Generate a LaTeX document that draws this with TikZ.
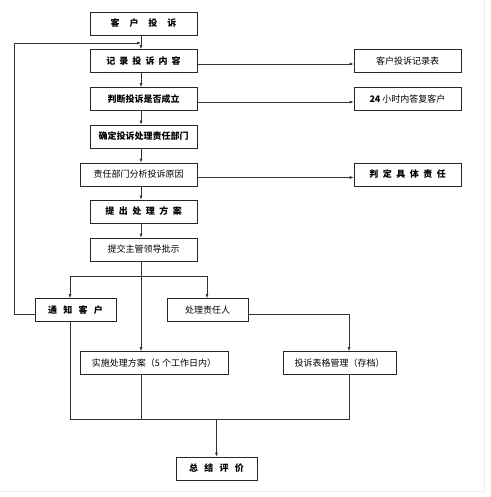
\documentclass[tikz,border=0pt]{standalone}
\usepackage{fontspec}
\newfontfamily\cjk{Noto Sans CJK SC}
\usetikzlibrary{arrows.meta}
\begin{document}
\begin{tikzpicture}[x=1pt,y=-1pt,
  box/.style={draw=black!85, line width=0.6pt, rectangle, inner sep=0pt, minimum height=23pt, font=\cjk\fontsize{9}{10}\selectfont},
  bbox/.style={box, font=\cjk\bfseries\fontsize{9}{10}\selectfont},
  conn/.style={draw=black!80, line width=0.6pt},
  arr/.style={conn, -{Latex[length=4pt,width=3pt]}}]
\useasboundingbox (0,0) rectangle (490,497);
\draw[gray!12, line width=0.6pt] (484,0) -- (484,491) -- (0,491);
% main column
\node[bbox, minimum width=107pt] (n1) at (143.5,23.5) {客\hspace{1.1em}户\hspace{1.1em}投\hspace{1.1em}诉};
\node[bbox, minimum width=107pt] (n2) at (143.5,61) {记\hspace{0.45em}录\hspace{0.45em}投\hspace{0.45em}诉\hspace{0.45em}内\hspace{0.45em}容};
\node[bbox, minimum width=107pt] (n3) at (143.5,99) {判断投诉是否成立};
\node[bbox, minimum width=107pt] (n4) at (143.5,136.5) {确定投诉处理责任部门};
\node[box, minimum width=117pt] (n5) at (138.5,174.5) {责任部门分析投诉原因};
\node[bbox, minimum width=107pt] (n6) at (143.5,211.5) {提\hspace{0.5em}出\hspace{0.5em}处\hspace{0.5em}理\hspace{0.5em}方\hspace{0.5em}案};
\node[box, minimum width=107pt] (n7) at (143.5,249.5) {提交主管领导批示};
\node[bbox, minimum width=81pt] (n8) at (75.5,310) {通\hspace{0.7em}知\hspace{0.7em}客\hspace{0.7em}户};
\node[box, minimum width=81pt] (n9) at (207.5,310) {处理责任人};
\node[box, minimum width=148pt] (n10) at (154,363) {实施处理方案（5 个工作日内）};
\node[box, minimum width=113pt] (n11) at (339.5,363) {投诉表格管理（存档）};
\node[bbox, minimum width=81pt] (n12) at (216.5,468.5) {总\hspace{0.7em}结\hspace{0.7em}评\hspace{0.7em}价};
% right column
\node[box, minimum width=107pt] (r1) at (407.5,61) {客户投诉记录表};
\node[box, minimum width=107pt] (r2) at (407.5,99) {\textbf{24} 小时内答复客户};
\node[bbox, minimum width=107pt] (r3) at (407.5,174.5) {判\hspace{0.5em}定\hspace{0.5em}具\hspace{0.5em}体\hspace{0.5em}责\hspace{0.5em}任};
% coordinates
\coordinate (sp) at (141,0);
\coordinate (loopend) at (141,43);
\coordinate (lp) at (14,43);
\coordinate (b1) at (70,276);
\coordinate (bm) at (141,276);
\coordinate (b2) at (207,276);
\coordinate (rt) at (349,314);
\coordinate (e1) at (70,419);
\coordinate (em) at (141,419);
\coordinate (ec) at (216.5,419);
\coordinate (e2) at (349,419);
% main arrows
\draw[arr] (n1.south -| sp) -- (n2.north -| sp);
\draw[arr] (n2.south -| sp) -- (n3.north -| sp);
\draw[arr] (n3.south -| sp) -- (n4.north -| sp);
\draw[arr] (n4.south -| sp) -- (n5.north -| sp);
\draw[arr] (n5.south -| sp) -- (n6.north -| sp);
\draw[arr] (n6.south -| sp) -- (n7.north -| sp);
\draw[arr] (n7.south -| sp) -- (n10.north -| sp);
% right arrows
\draw[arr] ([yshift=-3pt]n2.east) -- ([yshift=-3pt]r1.west);
\draw[arr] ([yshift=-3pt]n3.east) -- ([yshift=-3pt]r2.west);
\draw[arr] ([yshift=-3pt]n5.east) -- ([yshift=-3pt]r3.west);
% loop back
\draw[arr] ([yshift=-4pt]n8.west) -| (lp) -- (loopend);
% branch
\draw[conn] (b1) -- (b2);
\draw[arr] (b1) -- (n8.north -| b1);
\draw[arr] (b2) -- (n9.north -| b2);
\draw[arr] ([yshift=-4pt]n9.east) -| (n11.north -| rt);
% bottom merge
\draw[conn] (n8.south -| e1) -- (e1) -- (e2) -- (n11.south -| e2);
\draw[conn] (n10.south -| em) -- (em);
\draw[arr] (ec) -- (n12.north);
\end{tikzpicture}
\end{document}
